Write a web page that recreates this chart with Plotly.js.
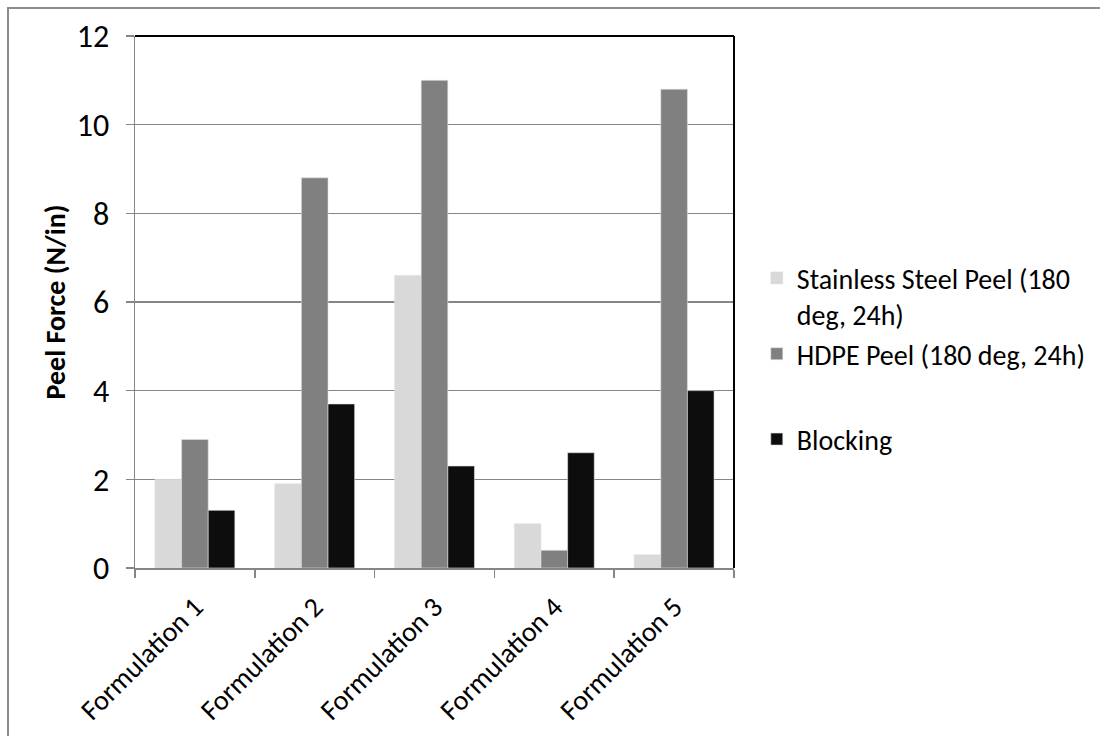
<!DOCTYPE html>
<html>
<head>
<meta charset="utf-8">
<script src="https://cdn.plot.ly/plotly-3.0.1.min.js"></script>
<style>
  html, body { margin: 0; padding: 0; background: #ffffff; }
  #wrap { position: relative; width: 1100px; height: 736px; overflow: hidden; }
  #frame { position: absolute; left: 7px; top: 7px; width: 1200px; height: 800px;
           border-top: 2px solid #8c8c8c; border-left: 2px solid #8c8c8c; pointer-events: none; }
  #chart { position: absolute; left: 0; top: 0; width: 1100px; height: 736px; }
</style>
</head>
<body>
<div id="wrap">
  <div id="chart"></div>
  <div id="frame"></div>
</div>
<script>
// Peel test results per formulation (N/in)
const formulations = ["Formulation 1", "Formulation 2", "Formulation 3", "Formulation 4", "Formulation 5"];
const stainlessSteelPeel = [2.0, 1.9, 6.6, 1.0, 0.3];
const hdpePeel = [2.9, 8.8, 11.0, 0.4, 10.8];
const blocking = [1.3, 3.7, 2.3, 2.6, 4.0];
const yTicks = [0, 2, 4, 6, 8, 10, 12];

const FONT = "Carlito, Lato, 'Liberation Sans', sans-serif";

// the two peel series share a legend block; Blocking sits lower, after a gap
const traces = [
  { name: "Stainless Steel Peel (180<br>deg, 24h)", y: stainlessSteelPeel, color: "#d9d9d9", group: "peel" },
  { name: "HDPE Peel (180 deg, 24h)", y: hdpePeel, color: "#808080", group: "peel" },
  { name: "Blocking", y: blocking, color: "#0d0d0d", group: "block" }
].map(s => ({
  type: "bar",
  x: formulations,
  y: s.y,
  name: s.name,
  legendgroup: s.group,
  marker: { color: s.color, line: { color: "#e0e0e0", width: 0.6 } },
  hoverinfo: "x+y"
}));

const layout = {
  width: 1100,
  height: 736,
  paper_bgcolor: "#ffffff",
  plot_bgcolor: "#ffffff",
  margin: { l: 135, r: 366, t: 36, b: 168, pad: 0 },
  font: { family: FONT, size: 28, color: "#000000" },
  barmode: "group",
  bargap: 0.333,
  bargroupgap: 0,
  showlegend: true,
  legend: {
    xref: "container", yref: "container",
    x: 0.688, y: 0.656, xanchor: "left", yanchor: "top",
    font: { family: FONT, size: 28, color: "#000000" },
    tracegroupgap: 46,
    valign: "top",
    itemwidth: 30,
    bgcolor: "rgba(0,0,0,0)"
  },
  xaxis: {
    type: "category",
    tickson: "boundaries",
    ticks: "outside",
    ticklen: 8,
    tickwidth: 1.5,
    tickcolor: "#868686",
    tickangle: -45,
    ticklabelstandoff: 10,
    showline: true,
    linecolor: "#868686",
    linewidth: 1.5,
    showgrid: false,
    zeroline: false,
    tickfont: { family: FONT, size: 28, color: "#000000" },
    automargin: false
  },
  yaxis: {
    range: [0, 12],
    tickvals: yTicks,
    ticktext: yTicks.map(String),
    ticks: "outside",
    ticklen: 8,
    tickwidth: 1.5,
    tickcolor: "#868686",
    ticklabelstandoff: 10,
    showline: true,
    linecolor: "#868686",
    linewidth: 1.5,
    showgrid: true,
    gridcolor: "#868686",
    gridwidth: 1.5,
    zeroline: false,
    tickfont: { family: FONT, size: 32, color: "#000000" },
    title: { text: "<b>Peel Force (N/in)</b>", font: { family: FONT, size: 28, color: "#000000" }, standoff: 3 },
    automargin: false
  },
  shapes: [
    { type: "line", xref: "paper", yref: "paper", x0: 0, x1: 1, y0: 1, y1: 1, line: { color: "#000000", width: 2 } },
    { type: "line", xref: "paper", yref: "paper", x0: 1, x1: 1, y0: 0, y1: 1, line: { color: "#000000", width: 2 } }
  ]
};

Plotly.newPlot("chart", traces, layout, { displayModeBar: false, staticPlot: true });
</script>
</body>
</html>
